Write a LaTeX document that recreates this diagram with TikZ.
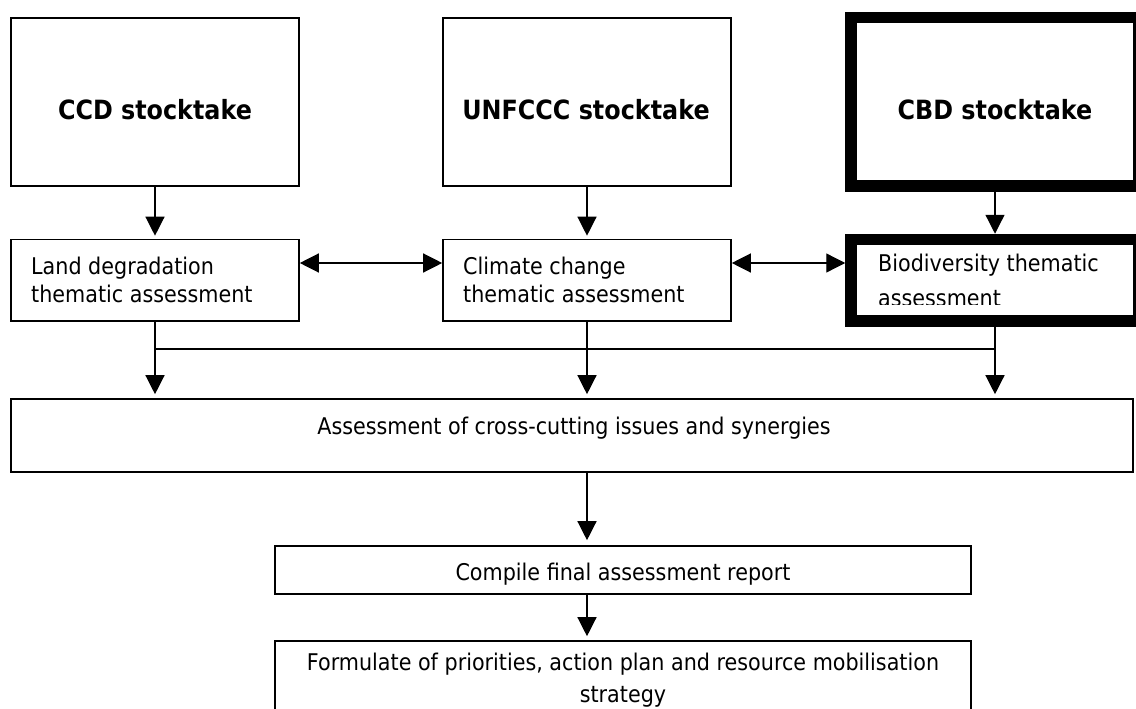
\documentclass[tikz,border=0pt]{standalone}
\usepackage{fontspec}
\setmainfont{DejaVu Sans}[FakeStretch=0.9]
\usetikzlibrary{arrows.meta}
\begin{document}
\begin{tikzpicture}[x=1pt,y=1pt,
  box/.style={draw=black,line width=1.6pt,rectangle,inner sep=0pt,minimum width=288pt},
  thickbox/.style={draw=black,line width=11.5pt,rectangle,inner sep=0pt,minimum width=288pt},
  wide/.style={draw=black,line width=1.6pt,rectangle,inner sep=0pt},
  txt/.style={inner sep=0pt,font=\fontsize{23}{28}\selectfont},
  btxt/.style={inner sep=0pt,font=\fontsize{26.5}{30}\selectfont\bfseries},
  conn/.style={draw=black,line width=1.3pt},
  arr/.style={conn,-{Triangle[length=19pt,width=19pt]}},
  darr/.style={conn,{Triangle[length=19pt,width=19pt]}-{Triangle[length=19pt,width=19pt]}}
]
\useasboundingbox (0,0) rectangle (1136,-709);
\fill[white] (0,0) rectangle (1136,-709);
\clip (0,0) rectangle (1136,-709);

% top boxes
\node[box,minimum height=168pt] (ccd) at (155,-102) {};
\node[box,minimum height=168pt] (unfccc) at (587,-102) {};
\node[thickbox,minimum height=168.5pt] (cbd) at (995,-101.75) {};

% thematic boxes
\node[box,minimum height=81.5pt] (land) at (155,-280.25) {};
\node[box,minimum height=81.5pt] (climate) at (587,-280.25) {};
\node[thickbox,minimum height=81.5pt] (bio) at (995,-280.25) {};

% lower boxes
\node[wide,minimum width=1122pt,minimum height=73pt] (assess) at (572,-435.5) {};
\node[wide,minimum width=696pt,minimum height=48pt] (compile) at (623,-570) {};
\node[wide,minimum width=696pt,minimum height=118pt] (formulate) at (623,-700) {};

% texts
\node[btxt,anchor=base] (tccd) at (155,-119) {CCD stocktake};
\node[btxt,anchor=base] (tunf) at (586,-119) {UNFCCC stocktake};
\node[btxt,anchor=base] (tcbd) at (995,-119) {CBD stocktake};

\node[txt,anchor=base west] (tland1) at (31,-274) {Land degradation};
\node[txt,anchor=base west] (tland2) at (31,-302) {thematic assessment};
\node[txt,anchor=base west] (tclim1) at (463,-274) {Climate change};
\node[txt,anchor=base west] (tclim2) at (463,-302) {thematic assessment};
\begin{scope}
\clip (857,-246) rectangle (1133,-304);
\node[txt,anchor=base west] (tbio1) at (878,-271) {Biodiversity thematic};
\node[txt,anchor=base west] (tbio2) at (878,-306) {assessment};
\end{scope}

\node[txt,anchor=base] (tass) at (574,-434) {Assessment of cross-cutting issues and synergies};
\node[txt,anchor=base] (tcomp) at (623,-580) {Compile final assessment report};
\node[txt,anchor=base] (tform1) at (623,-670) {Formulate of priorities, action plan and resource mobilisation};
\node[txt,anchor=base] (tform2) at (623,-702) {strategy};

% connectors
\draw[arr,shorten >=3pt] (ccd.south) -- (land.north);
\draw[arr,shorten >=3pt] (unfccc.south) -- (climate.north);
\draw[arr] (cbd.south) -- (bio.north);

\draw[darr] ([yshift=17.25pt]land.east) -- ([yshift=17.25pt]climate.west);
\draw[darr] ([yshift=17.25pt]climate.east) -- ([yshift=17.25pt]bio.west);

\coordinate (hl) at (155,-349);
\coordinate (hr) at (995,-349);
\draw[conn] (hl) -- (hr);
\draw[arr,shorten >=4pt] (land.south) -- (land.south |- assess.north);
\draw[arr,shorten >=4pt] (climate.south) -- (climate.south |- assess.north);
\draw[arr,shorten >=4pt] (bio.south) -- (bio.south |- assess.north);

\draw[arr,shorten >=5pt] (climate.south |- assess.south) -- (climate.south |- compile.north);
\draw[arr,shorten >=4pt] (climate.south |- compile.south) -- (climate.south |- formulate.north);
\end{tikzpicture}
\end{document}
